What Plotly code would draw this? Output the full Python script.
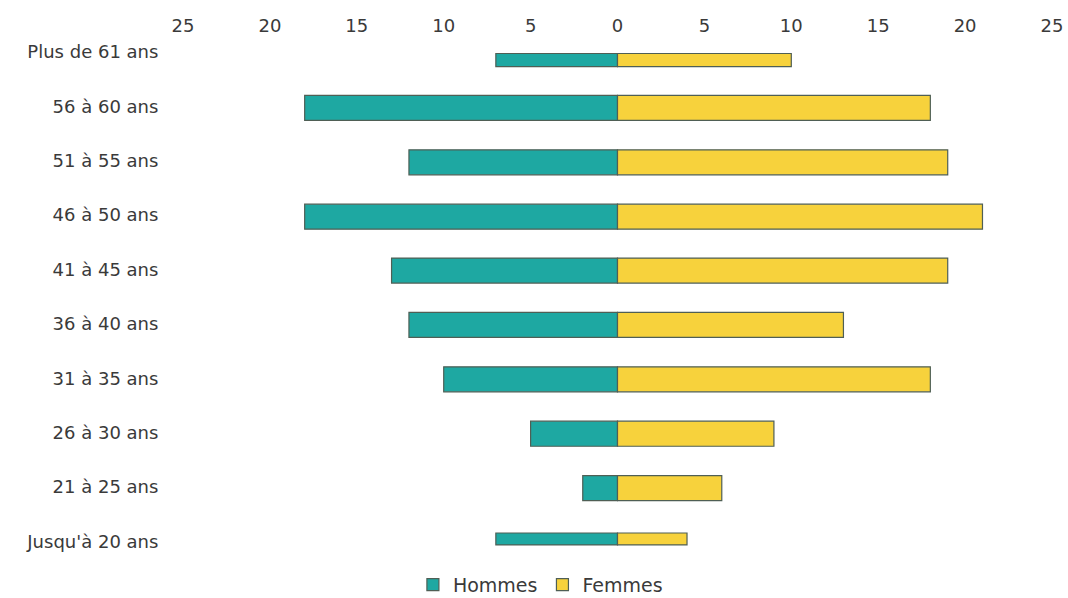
import plotly.graph_objects as go

# Age groups, top to bottom
age_groups = [
    "Plus de 61 ans", "56 à 60 ans", "51 à 55 ans", "46 à 50 ans", "41 à 45 ans",
    "36 à 40 ans", "31 à 35 ans", "26 à 30 ans", "21 à 25 ans", "Jusqu'à 20 ans",
]
hommes = [7, 18, 12, 18, 13, 12, 10, 5, 2, 7]
femmes = [10, 18, 19, 21, 19, 13, 18, 9, 6, 4]

tick_vals = [-25, -20, -15, -10, -5, 0, 5, 10, 15, 20, 25]
tick_text = ["25", "20", "15", "10", "5", "0", "5", "10", "15", "20", "25"]

# bar thickness per row (the outer rows are drawn thinner) and a small
# vertical nudge of each bar relative to its row label
bar_widths = [0.24, 0.46, 0.46, 0.46, 0.46, 0.46, 0.46, 0.46, 0.46, 0.22]
bar_shifts = [0.15, 0.03, 0.03, 0.03, 0.02, 0.02, 0.02, 0.02, 0.02, -0.045]
bar_offsets = [-w / 2 + s for w, s in zip(bar_widths, bar_shifts)]

TEAL = "#1ea8a2"
YELLOW = "#f7d23c"
EDGE = "#4f5f55"
FONT = dict(family="DejaVu Sans, sans-serif", size=18, color="#3a3a3a")

fig = go.Figure()
fig.add_trace(go.Bar(
    y=age_groups, x=[-v for v in hommes], orientation="h", name="Hommes",
    width=bar_widths, offset=bar_offsets,
    marker=dict(color=TEAL, line=dict(color=EDGE, width=1.2)),
))
fig.add_trace(go.Bar(
    y=age_groups, x=femmes, orientation="h", name="Femmes",
    width=bar_widths, offset=bar_offsets,
    marker=dict(color=YELLOW, line=dict(color=EDGE, width=1.2)),
))

fig.update_layout(
    width=1068, height=598,
    barmode="relative",
    paper_bgcolor="white", plot_bgcolor="white",
    font=FONT,
    margin=dict(l=183, r=16, t=35, b=31, autoexpand=False),
    xaxis=dict(
        side="top", range=[-25, 25], tickvals=tick_vals, ticktext=tick_text,
        showgrid=False, zeroline=False, showline=False, ticks="",
        ticklabelstandoff=-2, tickfont=FONT,
    ),
    yaxis=dict(
        type="category", categoryorder="array", categoryarray=age_groups,
        range=[9.47, -0.31], showgrid=False, zeroline=False, showline=False,
        ticks="outside", ticklen=20, tickcolor="rgba(0,0,0,0)",
        tickfont=FONT,
    ),
    legend=dict(
        orientation="h", xref="container", yref="container",
        x=0.506, xanchor="center", y=0.022, yanchor="middle",
        font=dict(family="DejaVu Sans, sans-serif", size=19, color="#3a3a3a"),
        itemwidth=30, traceorder="normal",
    ),
    showlegend=True,
)

fig.write_html("out.html")
